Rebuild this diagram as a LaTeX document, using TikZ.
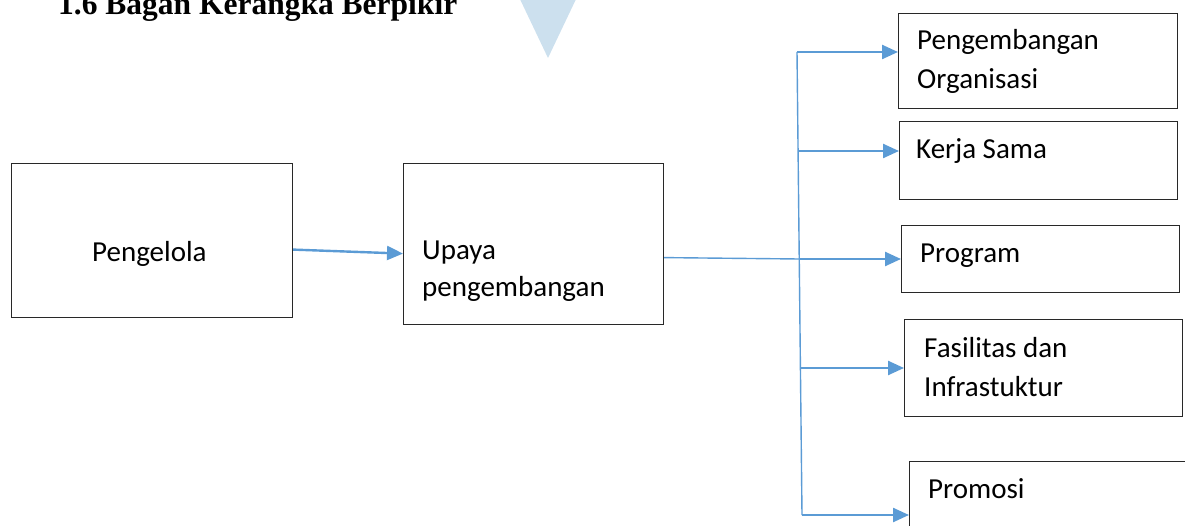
\documentclass[tikz,border=0pt]{standalone}
\usepackage{fontspec}
\setmainfont{Carlito}
\newfontfamily\titlefont{Liberation Serif}
\usetikzlibrary{arrows.meta}
\definecolor{lineblue}{RGB}{91,155,213}
\definecolor{triblue}{RGB}{204,224,238}
\definecolor{boxline}{RGB}{40,40,40}
\begin{document}
\begin{tikzpicture}[x=1pt,y=-1pt,
  box/.style={draw=boxline,line width=1.2pt,rectangle,inner sep=0pt,anchor=north west},
  lbl/.style={font=\fontsize{29}{35}\selectfont,inner sep=0pt,anchor=base west},
  ttl/.style={font=\titlefont\bfseries\fontsize{31.5}{36}\selectfont,inner sep=0pt,anchor=base west},
  arr/.style={draw=lineblue,line width=2.4pt,-{Triangle[length=16pt,width=14pt]}},
  thinline/.style={draw=lineblue,line width=1.4pt}]
\useasboundingbox (0,0) rectangle (1185,526);
\clip (0,0) rectangle (1185,526);
% decorative triangle
\fill[triblue] (518,-5) -- (578,-5) -- (548,58) -- cycle;
% title
\node[ttl] (title) at (58,15) {1.6 Bagan Kerangka Berpikir};
% boxes
\node[box,minimum width=281pt,minimum height=154pt] (pg) at (11,163) {};
\node[box,minimum width=260pt,minimum height=161pt] (up) at (403,163) {};
\node[box,minimum width=279pt,minimum height=95pt] (po) at (898,13) {};
\node[box,minimum width=278pt,minimum height=78pt] (ks) at (899,121) {};
\node[box,minimum width=278pt,minimum height=67pt] (pr) at (901,225) {};
\node[box,minimum width=278pt,minimum height=97pt] (fi) at (904,319) {};
\node[box,minimum width=300pt,minimum height=100pt] (pm) at (909,461) {};
% labels
\node[lbl] (tpg) at (92,262) {Pengelola};
\node[lbl] (tup1) at (422,260) {Upaya};
\node[lbl] (tup2) at (422,297) {pengembangan};
\node[lbl] (tpo1) at (917,50) {Pengembangan};
\node[lbl] (tpo2) at (917,89) {Organisasi};
\node[lbl] (tks) at (916,159) {Kerja Sama};
\node[lbl] (tpr) at (920,263) {Program};
\node[lbl] (tfi1) at (924,357) {Fasilitas dan};
\node[lbl] (tfi2) at (924,396) {Infrastuktur};
\node[lbl] (tpm) at (928,498) {Promosi};
% branch line coordinates
\coordinate (v1) at (797,52);
\coordinate (v2) at (798.1,151);
\coordinate (v3) at (799.2,259);
\coordinate (v4) at (800.4,368);
\coordinate (v5) at (802,515);
% connectors
\draw[arr] ([yshift=-9pt]pg.east) -- ([yshift=-9.5pt]up.west);
\draw[thinline] ([yshift=-13.5pt]up.east) -- (v3);
\draw[thinline] (v1) -- (v5);
\draw[arr] (v1) -- (v1 -| po.west);
\draw[arr] (v2) -- (v2 -| ks.west);
\draw[arr] (v3) -- (v3 -| pr.west);
\draw[arr] (v4) -- (v4 -| fi.west);
\draw[arr] (v5) -- (v5 -| pm.west);
\end{tikzpicture}
\end{document}
